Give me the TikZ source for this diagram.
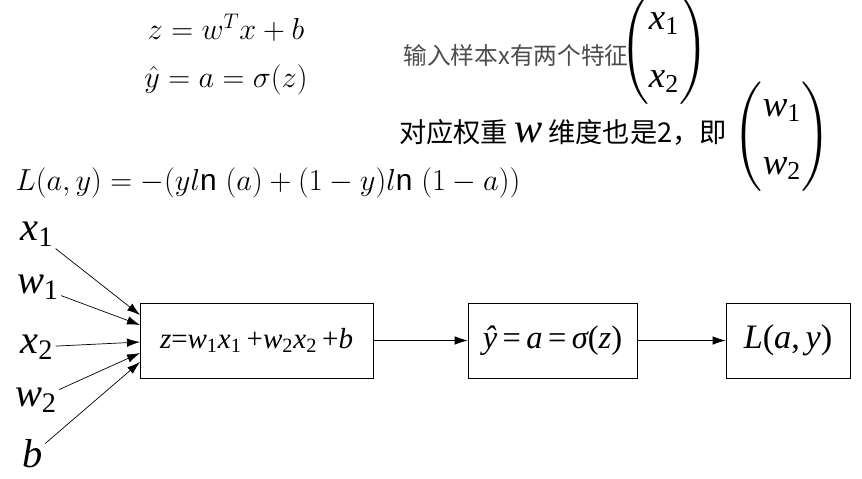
\documentclass[tikz,border=0pt]{standalone}
\usepackage{fontspec}
\usepackage{amsmath}
\setsansfont{Liberation Sans}
\newfontfamily\cjk{Noto Sans CJK SC}
\newfontfamily\tnr{Liberation Serif}
\usetikzlibrary{arrows.meta,positioning}
\newcommand{\tv}[1]{{\tnr\itshape #1}}
\newcommand{\tsub}[2]{{\tnr\itshape #1}\textsubscript{\tnr\upshape #2}}
\newcommand{\colvec}[2]{\left(\begin{array}{@{}c@{}}\mbox{#1}\\[9pt]\mbox{#2}\end{array}\right)}
\tikzset{
    block/.style = {
        draw, 
        thin,
        fill = white,
        minimum height = 1.5cm,
        inner sep = 0pt
    },
    inp/.style = {
        inner sep = 1pt,
        font = \fontsize{23}{26}\selectfont
    },
    feed/.style = {
        -{Latex[length = 2.6mm, width = 1.7mm]},
        thin
    }
}

\begin{document}
\begin{tikzpicture}[x = 0.02cm, y = -0.02cm]
    \useasboundingbox
        (0, 0) rectangle (862, 478)
    ;

    % Formulas
    \node (zdef) at (226, 28) 
        {\fontsize{17}{20}\selectfont $z=w^Tx+b$};
    \node (ydef) at (226, 80) 
        {\fontsize{17}{20}\selectfont $\hat{y}=a=\sigma(z)$};
    \node (ldef) at (268, 183) 
        {\fontsize{17}{20}\selectfont 
         $L(a,y)=-(yl\textsf{n}\ (a)+(1-y)l\textsf{n}\ (1-a))$};

    % Notes
    \node [text = black!70] (xnote) at (516, 55) 
        {\fontsize{13.5}{16}\selectfont\cjk 输入样本x有两个特征};
    \node (xvec) at (664, 50) 
        {\fontsize{21}{24}\selectfont $\colvec{\tsub{x}{1}}{\tsub{x}{2}}$};
    \node (wnote) at (563, 132) 
        {\fontsize{15.5}{18}\selectfont\cjk 对应权重 {\fontsize{24}{26}\selectfont\tv{w}} 维度也是2，即};
    \node (wvec) at (782, 137) 
        {\fontsize{21}{24}\selectfont $\colvec{\tsub{w}{1}}{\tsub{w}{2}}$};

    % Inputs
    \node [inp] (x1) at (37, 234) {\tsub{x}{1}};
    \node [inp] (w1) at (38, 287) {\tsub{w}{1}};
    \node [inp] (x2) at (37, 347) {\tsub{x}{2}};
    \node [inp] (w2) at (36, 400) {\tsub{w}{2}};
    \node [inp] (b) at (33, 454) {\tv{b}};

    % Blocks
    \node [block, minimum width = 4.66cm, font = \fontsize{16.5}{19}\selectfont] 
        (zbox) at (256.5, 340.5) 
        {\tv{z}{\tnr=}\tsub{w}{1}\tsub{x}{1}{\tnr\,+}\tsub{w}{2}\tsub{x}{2}{\tnr\,+}\tv{b}};
    \node [block, minimum width = 3.38cm, font = \fontsize{18.5}{21}\selectfont] 
        (abox) at (552.5, 340.5) 
        {\tv{\^{y}}{\tnr\,=\,}\tv{a}{\tnr\,=\,}\tv{σ}{\tnr(}\tv{z}{\tnr)}};
    \node [block, minimum width = 2.48cm, font = \fontsize{19.5}{22}\selectfont] 
        (lbox) at (788, 340.5) 
        {\tv{L}{\tnr(}\tv{a}{\tnr,\,}\tv{y}{\tnr)}};

    % Arrow ends
    \coordinate (e1) at (140, 315);
    \coordinate (e2) at (140, 325);
    \coordinate (e3) at (140, 342);
    \coordinate (e4) at (140, 353);
    \coordinate (e5) at (140, 362);

    % Arrows
    \draw [feed] (x1) -- (e1);
    \draw [feed] (w1) -- (e2);
    \draw [feed] (x2) -- (e3);
    \draw [feed] (w2) -- (e4);
    \draw [feed] (b) -- (e5);
    \draw 
        [feed] (zbox) -- (abox)
    ;
    \draw 
        [feed] (abox) -- (lbox)
    ;

\end{tikzpicture}
\end{document}
